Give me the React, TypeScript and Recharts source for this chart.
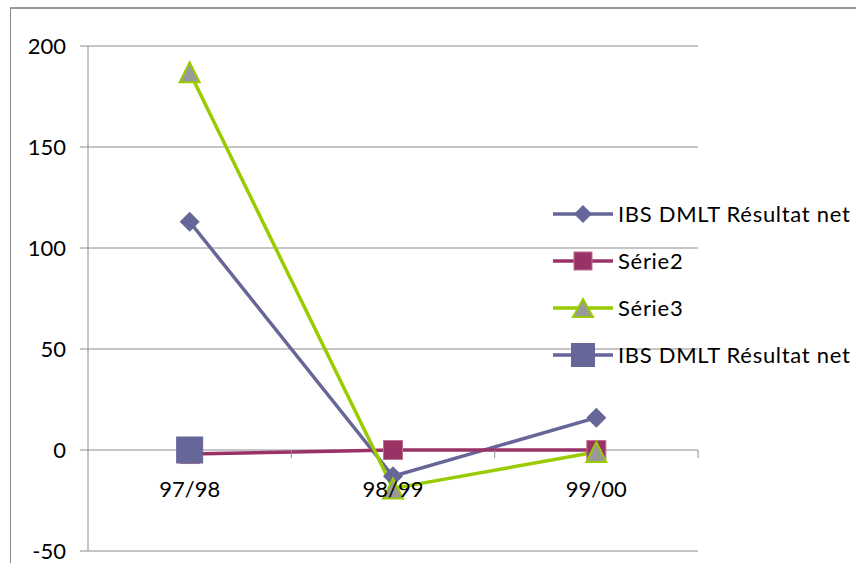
import React from "react";
import { CartesianGrid, Line, LineChart, XAxis, YAxis } from "recharts";

const categories = ["97/98", "98/99", "99/00"];
const ibsNet = [113, -13, 16];
const serie2 = [-2, 0, 0];
const serie3 = [187, -19, -1];
const ibsNetBig = [0, null, null];
const yTicks = [-50, 0, 50, 100, 150, 200];
const legendNames = ["IBS DMLT Résultat net", "Série2", "Série3", "IBS DMLT Résultat net"];

const data = categories.map((cat, i) => ({
  cat,
  s1: ibsNet[i],
  s2: serie2[i],
  s3: serie3[i],
  s4: ibsNetBig[i],
}));

const W = 856;
const H = 563;
const PLOT_LEFT = 88;
const PLOT_RIGHT = 698;
const PLOT_TOP = 46;
const PLOT_BOTTOM = 551;
const Y_MIN = -50;
const Y_MAX = 200;
const ZERO_Y = PLOT_TOP + ((Y_MAX - 0) / (Y_MAX - Y_MIN)) * (PLOT_BOTTOM - PLOT_TOP);
const BAND = (PLOT_RIGHT - PLOT_LEFT) / categories.length;
const X_AXIS_H = 20;

const PURPLE = "#666699";
const MAROON = "#993366";
const GREEN = "#99cc00";
const GREY = "#8c8c8c";
const FONT = "Lato, 'Open Sans', sans-serif";

const diamond = (props: any) => {
  const { cx, cy, index } = props;
  if (cx == null || cy == null) return <g key={`d${index}`} />;
  const r = 10;
  return (
    <path
      key={`d${index}`}
      d={`M${cx} ${cy - r}L${cx + r} ${cy}L${cx} ${cy + r}L${cx - r} ${cy}Z`}
      fill={PURPLE}
    />
  );
};

const square = (size: number, fill: string, stroke: string) => (props: any) => {
  const { cx, cy, index } = props;
  if (cx == null || cy == null) return <g key={`s${size}${index}`} />;
  return (
    <rect
      key={`s${size}${index}`}
      x={cx - size / 2}
      y={cy - size / 2}
      width={size}
      height={size}
      fill={fill}
      stroke={stroke}
      strokeWidth={1}
    />
  );
};

const triangle = (props: any) => {
  const { cx, cy, index } = props;
  if (cx == null || cy == null) return <g key={`t${index}`} />;
  const h = 10;
  return (
    <path
      key={`t${index}`}
      d={`M${cx} ${cy - h}L${cx + h} ${cy + h}L${cx - h} ${cy + h}Z`}
      fill="#999999"
      stroke={GREEN}
      strokeWidth={2}
    />
  );
};

// category labels sit under the zero line, not at the plot bottom
const CatTick = (props: any) => {
  const { x, payload } = props;
  return (
    <g>
      <line x1={x + BAND / 2} x2={x + BAND / 2} y1={ZERO_Y} y2={ZERO_Y + 8} stroke={GREY} />
      <text
        x={x}
        y={ZERO_Y + 41}
        textAnchor="middle"
        dominantBaseline="middle"
        fontSize={22}
        fontFamily={FONT}
        fill="#000"
      >
        {payload.value}
      </text>
    </g>
  );
};

const legendMarkers = [
  <path d="M30 1L39 10L30 19L21 10Z" fill={PURPLE} />,
  <rect x={21} y={1} width={18} height={18} fill={MAROON} stroke="#c07090" />,
  <path d="M30 1L40 19L20 19Z" fill="#999999" stroke={GREEN} strokeWidth={2} />,
  <rect x={18} y={-2} width={24} height={24} fill={PURPLE} />,
];
const legendColors = [PURPLE, MAROON, GREEN, PURPLE];

export default function App() {
  return (
    <div style={{ position: "absolute", left: 0, top: 0, width: W, height: H, background: "#fff", overflow: "hidden" }}>
      <div
        style={{
          position: "absolute",
          left: 10,
          top: 7,
          width: W,
          height: H,
          borderLeft: "1px solid #888",
          borderTop: "2px solid #999",
        }}
      />
      <LineChart
        width={W}
        height={H + X_AXIS_H}
        data={data}
        margin={{ top: PLOT_TOP, right: W - PLOT_RIGHT, bottom: H - PLOT_BOTTOM, left: 28 }}
        style={{ position: "absolute", left: 0, top: 0 }}
      >
        <CartesianGrid vertical={false} stroke={GREY} strokeWidth={1} />
        <XAxis
          dataKey="cat"
          height={X_AXIS_H}
          axisLine={false}
          tickLine={false}
          padding={{ left: BAND / 2, right: BAND / 2 }}
          tick={<CatTick />}
          interval={0}
        />
        <YAxis
          width={60}
          domain={[Y_MIN, Y_MAX]}
          ticks={yTicks}
          interval={0}
          allowDataOverflow
          axisLine={{ stroke: GREY }}
          tickLine={{ stroke: GREY }}
          tickSize={8}
          tickMargin={14}
          tick={{ fontSize: 22, fontFamily: FONT, fill: "#000" }}
        />
        <Line dataKey="s1" stroke={PURPLE} strokeWidth={3.5} dot={false} activeDot={false} isAnimationActive={false} />
        <Line dataKey="s2" stroke={MAROON} strokeWidth={3.5} dot={false} activeDot={false} isAnimationActive={false} />
        <Line dataKey="s3" stroke={GREEN} strokeWidth={3.5} dot={false} activeDot={false} isAnimationActive={false} />
        <Line dataKey="s1" stroke="none" dot={diamond} activeDot={false} isAnimationActive={false} />
        <Line dataKey="s2" stroke="none" dot={square(19, MAROON, "#c07090")} activeDot={false} isAnimationActive={false} />
        <Line dataKey="s3" stroke="none" dot={triangle} activeDot={false} isAnimationActive={false} />
        <Line dataKey="s4" stroke="none" dot={square(26, PURPLE, PURPLE)} activeDot={false} isAnimationActive={false} />
      </LineChart>
      <div style={{ position: "absolute", left: 553, top: 190, fontFamily: FONT, fontSize: 22, color: "#000", letterSpacing: 0.7 }}>
        {legendNames.map((name, i) => (
          <div key={i} style={{ display: "flex", alignItems: "center", height: 47 }}>
            <svg width={60} height={20} style={{ overflow: "visible" }}>
              <line x1={0} x2={60} y1={10} y2={10} stroke={legendColors[i]} strokeWidth={3.5} />
              {legendMarkers[i]}
            </svg>
            <span style={{ marginLeft: 5, whiteSpace: "nowrap" }}>{name}</span>
          </div>
        ))}
      </div>
    </div>
  );
}
